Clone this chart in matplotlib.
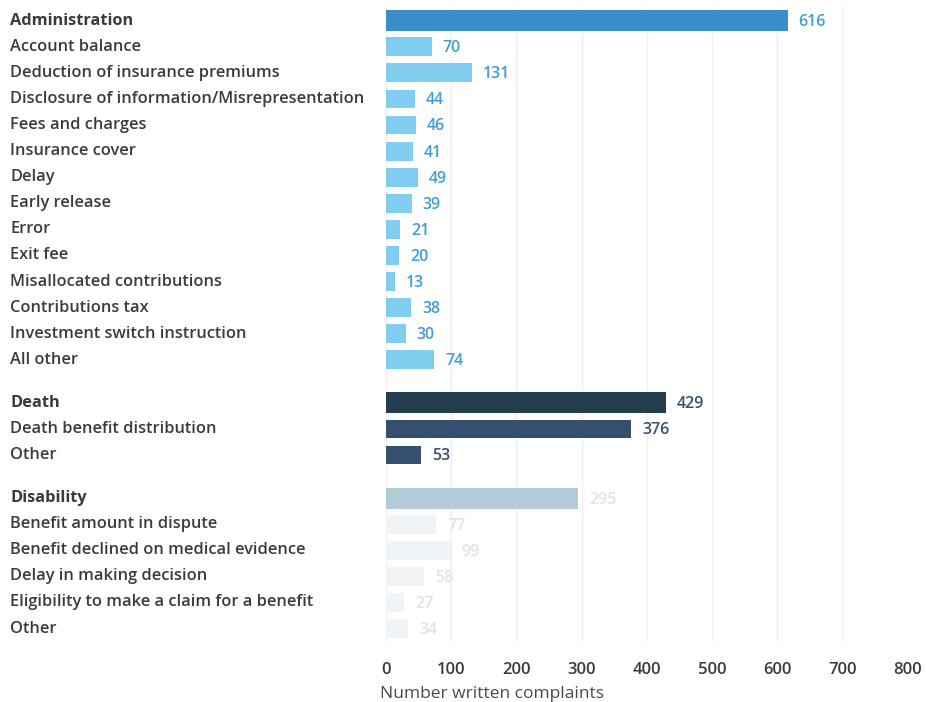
import matplotlib.pyplot as plt
from matplotlib.transforms import blended_transform_factory

plt.rcParams['font.family'] = ['Open Sans', 'DejaVu Sans']

# data
admin_labels = ["Account balance", "Deduction of insurance premiums",
                "Disclosure of information/Misrepresentation", "Fees and charges",
                "Insurance cover", "Delay", "Early release", "Error", "Exit fee",
                "Misallocated contributions", "Contributions tax",
                "Investment switch instruction", "All other"]
admin_values = [70, 131, 44, 46, 41, 49, 39, 21, 20, 13, 38, 30, 74]
admin_total = 616

death_labels = ["Death benefit distribution", "Other"]
death_values = [376, 53]
death_total = 429

dis_labels = ["Benefit amount in dispute", "Benefit declined on medical evidence",
              "Delay in making decision", "Eligibility to make a claim for a benefit",
              "Other"]
dis_values = [77, 99, 58, 27, 34]
dis_total = 295

x_ticks = [0, 100, 200, 300, 400, 500, 600, 700, 800]

groups = [
    ("Administration", admin_total, admin_labels, admin_values,
     "#3a8fcb", "#80cdf0", "#3f9fd3"),
    ("Death", death_total, death_labels, death_values,
     "#233d4f", "#34506e", "#34506e"),
    ("Disability", dis_total, dis_labels, dis_values,
     "#b3cbd7", "#f1f4f6", "#dde3e6"),
]

fig = plt.figure(figsize=(9.26, 7.02), dpi=100)
ax = fig.add_axes([0.417, 0.086, 0.563, 0.905])
trans = blended_transform_factory(fig.transFigure, ax.transData)

y = 0.0
gap = 0.65
for gi, (title, total, labels, values, c_tot, c_sub, c_txt) in enumerate(groups):
    rows = [(title, total, c_tot, True)] + [(l, v, c_sub, False) for l, v in zip(labels, values)]
    for name, val, col, bold in rows:
        ax.barh(y, val, height=0.8 if bold else 0.72, color=col, zorder=2)
        ax.annotate(str(val), (val, y), xytext=(8, -1), textcoords="offset points",
                    va="center", ha="left", fontsize=11.5, color=c_txt,
                    fontweight="semibold")
        ax.text(0.011, y, name, transform=trans, va="center", ha="left",
                fontsize=11.8, color="#3b3b3b",
                fontweight="bold" if bold else "semibold")
        y += 1
    y += gap

ax.set_xlim(0, 800)
ax.set_ylim(y - gap - 0.5, -0.55)
ax.set_yticks([])
ax.set_xticks(x_ticks)
ax.tick_params(axis="x", length=0, pad=15, labelsize=12, labelcolor="#3b3b3b")
for t in ax.get_xticklabels():
    t.set_fontweight("semibold")
ax.grid(axis="x", color="#f0f0f0", linewidth=1, zorder=0)
for s in ax.spines.values():
    s.set_visible(False)
ax.set_xlabel("Number written complaints", fontsize=12.5, color="#4a4a4a",
              loc="left")
ax.xaxis.set_label_coords(-0.012, -0.07)

fig.savefig("out.png", dpi=100)
